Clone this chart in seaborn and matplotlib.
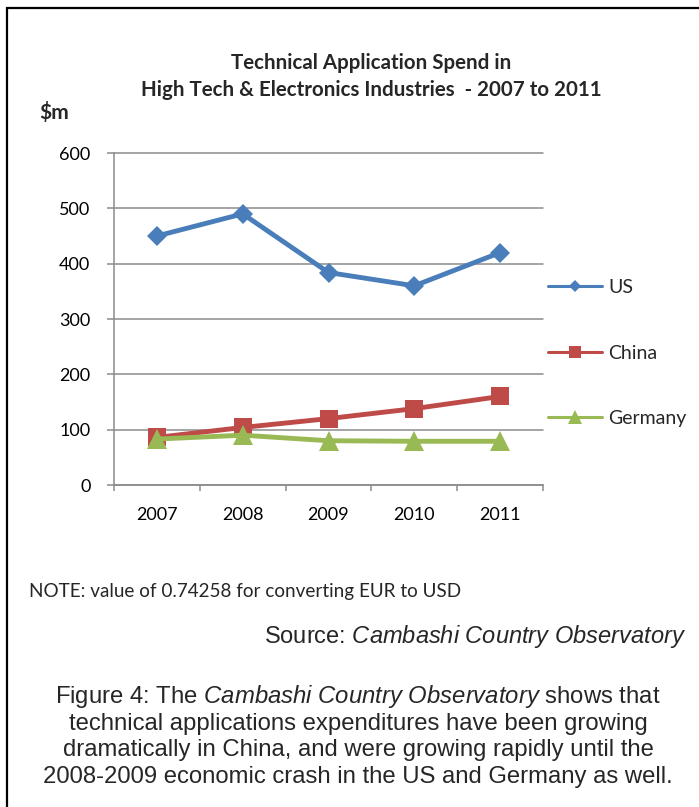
import numpy as np
import pandas as pd
import matplotlib
matplotlib.use("Agg")
import matplotlib.pyplot as plt
import seaborn as sns
from matplotlib.lines import Line2D
from matplotlib.patches import Rectangle
from matplotlib.ticker import FixedLocator

# ---------------- data ----------------
years = [2007, 2008, 2009, 2010, 2011]
us = [450, 490, 384, 360, 420]
china = [86, 104, 120, 138, 160]
germany = [83, 90, 80, 79, 79]
countries = ["US", "China", "Germany"]
y_ticks = [0, 100, 200, 300, 400, 500, 600]

title_lines = ["Technical Application Spend in",
               "High Tech & Electronics Industries  - 2007 to 2011"]
y_unit = "$m"
note = "NOTE: value of 0.74258 for converting EUR to USD"
source = r"Source: $\it{Cambashi\ Country\ Observatory}$"
caption = [r"Figure 4: The $\it{Cambashi\ Country\ Observatory}$ shows that",
           "technical applications expenditures have been growing",
           "dramatically in China, and were growing rapidly until the",
           "2008-2009 economic crash in the US and Germany as well."]

df = pd.DataFrame({
    "Year": years * 3,
    "Spend": us + china + germany,
    "Country": [c for c in countries for _ in years],
})

# ---------------- style ----------------
colors = {"US": "#4A7EBB", "China": "#BE4B48", "Germany": "#98B954"}
markers = {"US": "D", "China": "s", "Germany": "^"}
msizes = {"US": 10.5, "China": 13.5, "Germany": 14.0}
leg_msizes = {"US": 6.0, "China": 8.5, "Germany": 9.5}
grid_col = "#8C8C8C"

sns.set_theme(style="white")
plt.rcParams["font.family"] = ["Lato", "DejaVu Sans"]
plt.rcParams["mathtext.fontset"] = "custom"
plt.rcParams["mathtext.rm"] = "Liberation Sans"
plt.rcParams["mathtext.it"] = "Liberation Sans:italic"

W, H = 699, 807
fig = plt.figure(figsize=(W / 100, H / 100), dpi=100)
fig.patch.set_facecolor("white")


def fx(px):
    return px / W


def fy(py):
    return 1 - py / H


ax = fig.add_axes([fx(114), fy(485), fx(543) - fx(114), fy(153) - fy(485)])

for c in countries:
    sub = df[df["Country"] == c]
    sns.lineplot(data=sub, x="Year", y="Spend", ax=ax, color=colors[c],
                 linewidth=3.5, marker=markers[c], markersize=msizes[c],
                 markeredgewidth=0, legend=False, zorder=3)

ax.set_xlim(years[0] - 0.5, years[-1] + 0.5)
ax.set_ylim(y_ticks[0], y_ticks[-1])
ax.set_xlabel("")
ax.set_ylabel("")
ax.set_yticks(y_ticks)
ax.set_xticks(years)
ax.set_xticklabels([str(y) for y in years])
ax.xaxis.set_minor_locator(FixedLocator([y - 0.5 for y in years] + [years[-1] + 0.5]))

ax.yaxis.grid(True, color=grid_col, linewidth=1.1)
ax.xaxis.grid(False)
for gl in ax.yaxis.get_gridlines():
    gl.set_clip_on(False)

for s in ["top", "right"]:
    ax.spines[s].set_visible(False)
for s in ["left", "bottom"]:
    ax.spines[s].set_color(grid_col)
    ax.spines[s].set_linewidth(1.1)

ax.tick_params(axis="y", which="major", length=5, width=1.1, color=grid_col,
               direction="out", left=True, pad=12, labelsize=13, labelcolor="black")
ax.tick_params(axis="x", which="major", length=0, pad=16, labelsize=13,
               labelcolor="black")
ax.tick_params(axis="x", which="minor", length=4.5, width=1.1, color=grid_col,
               direction="out", bottom=True)

# legend
handles = [Line2D([], [], color=colors[c], linewidth=2.2, marker=markers[c],
                  markersize=leg_msizes[c], markeredgewidth=0) for c in countries]
fig.legend(handles, countries, loc="upper left",
           bbox_to_anchor=(fx(548), fy(279)), frameon=False,
           fontsize=14, handlelength=2.8, handletextpad=0.3,
           labelspacing=2.5, borderaxespad=0, borderpad=0)

# texts
fig.text(fx(371), fy(63), title_lines[0], ha="center", va="center",
         fontsize=14.8, fontweight="bold")
fig.text(fx(371), fy(90), title_lines[1], ha="center", va="center",
         fontsize=14.8, fontweight="bold")
fig.text(fx(39), fy(113), y_unit, ha="left", va="center", fontsize=15,
         fontweight="bold")
fig.text(fx(29), fy(592), note, ha="left", va="center", fontsize=13.6)
fig.text(fx(686), fy(637), source, ha="right", va="center", fontsize=17,
         family="Liberation Sans")
for i, line in enumerate(caption):
    fig.text(fx(358), fy(697 + 26.6 * i), line, ha="center", va="center",
             fontsize=17.2, family="Liberation Sans")

# outer frame
fig.add_artist(Rectangle((fx(7), fy(830)), fx(720) - fx(7), fy(8) - fy(830),
                         transform=fig.transFigure, fill=False,
                         edgecolor="black", linewidth=1.6, clip_on=False))

fig.savefig("out.png", dpi=100, facecolor="white")
